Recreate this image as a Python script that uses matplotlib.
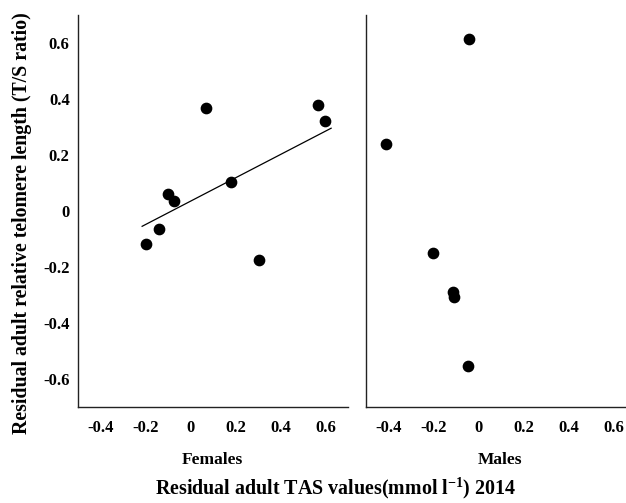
import matplotlib
matplotlib.use('Agg')
import matplotlib.pyplot as plt
import numpy as np

plt.rcParams['font.family'] = ['Liberation Serif', 'DejaVu Serif']
plt.rcParams['font.weight'] = 'bold'
plt.rcParams['mathtext.fontset'] = 'custom'
plt.rcParams['mathtext.rm'] = 'Liberation Serif:bold'
plt.rcParams['mathtext.default'] = 'regular'

# females: residual TAS vs residual telomere length
fem_x = [-0.196, -0.141, -0.099, -0.074, 0.068, 0.179, 0.566, 0.596, 0.304]
fem_y = [-0.118, -0.064, 0.061, 0.037, 0.367, 0.105, 0.379, 0.323, -0.175]
# fitted line for females
fit_x = [-0.215, 0.625]
fit_slope = 0.417
fit_intercept = 0.035

# males
mal_x = [-0.043, -0.410, -0.201, -0.114, -0.108, -0.047]
mal_y = [0.614, 0.239, -0.150, -0.288, -0.308, -0.555]

xticks = [-0.4, -0.2, 0, 0.2, 0.4, 0.6]
yticks = [-0.6, -0.4, -0.2, 0, 0.2, 0.4, 0.6]
tick_labels_x = ['-0.4', '-0.2', '0', '0.2', '0.4', '0.6']
tick_labels_y = ['-0.6', '-0.4', '-0.2', '0', '0.2', '0.4', '0.6']

W, H = 626, 503
fig = plt.figure(figsize=(W / 100, H / 100), dpi=100)

ax1 = fig.add_axes([78 / W, (H - 407) / H, 270 / W, 392 / H])
ax2 = fig.add_axes([366 / W, (H - 407) / H, 270 / W, 392 / H])

for ax in (ax1, ax2):
    ax.set_xlim(-0.5, 0.7)
    ax.set_ylim(-0.7, 0.7)
    for s in ('top', 'right'):
        ax.spines[s].set_visible(False)
    for s in ('left', 'bottom'):
        ax.spines[s].set_linewidth(1.0)
        ax.spines[s].set_color('#222222')
    ax.set_xticks(xticks)
    ax.set_xticklabels(tick_labels_x, fontsize=12, fontweight='bold')
    ax.tick_params(axis='x', length=0, pad=9)
    ax.tick_params(axis='y', length=0, pad=6)

ax1.set_yticks(yticks)
ax1.set_yticklabels(tick_labels_y, fontsize=12, fontweight='bold')
ax2.set_yticks([])

ax1.scatter(fem_x, fem_y, s=55, color='black', zorder=3)
fx = np.array(fit_x)
ax1.plot(fx, fit_intercept + fit_slope * fx, color='black', lw=0.9)
ax2.scatter(mal_x, mal_y, s=55, color='black', zorder=3, clip_on=False)

fig.text(212 / W, 1 - 460 / H, 'Females', ha='center', va='center', fontsize=12.5, fontweight='bold')
fig.text(500 / W, 1 - 460 / H, 'Males', ha='center', va='center', fontsize=12.5, fontweight='bold')
fig.text(336 / W, 1 - 488 / H, r'Residual adult TAS values(mmol l$^{-1}$) 2014',
         ha='center', va='center', fontsize=14.4, fontweight='bold')
fig.text(22 / W, 1 - 223 / H, 'Residual adult relative telomere length (T/S ratio)',
         ha='center', va='center', rotation=90, fontsize=14.3, fontweight='bold')

fig.savefig('out.png', dpi=100)
